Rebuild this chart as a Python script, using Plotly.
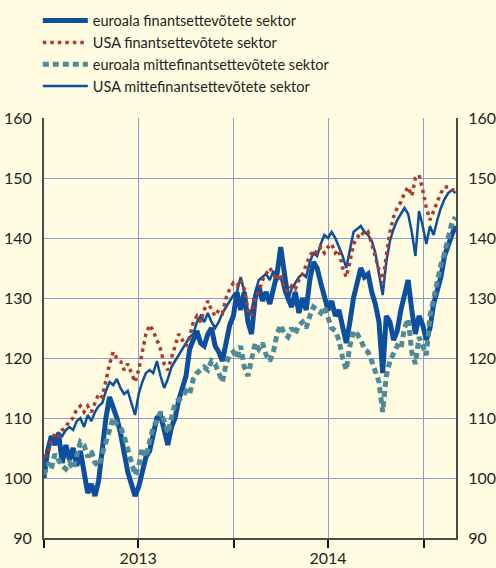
import pandas as pd
import plotly.graph_objects as go

# weekly observations, index 2013-01-01 = ~100
start_date = "2013-01-01"
n_weeks = 114

euro_fin = [100.0, 104.5, 107, 105.5, 107.5, 102.5, 105.5, 103, 105, 102,
            104.5, 100.5, 97.5, 99, 97, 99.5, 105, 110, 113.5, 112,
            110, 107.5, 104, 101, 99, 97, 98.5, 101, 103.5, 104.5,
            107, 110, 110.5, 108, 105.5, 108.5, 110, 113, 115, 117,
            121.5, 123, 124.5, 122.5, 122, 124, 125, 122, 121, 119.5,
            123, 125.5, 127, 131, 128, 131, 126, 124, 130, 132,
            129.5, 131, 129, 132, 134, 138.5, 134, 130, 128.5, 131,
            127.5, 130, 128, 133, 136, 135, 132.5, 130, 128, 129.5,
            127, 128, 125, 122.5, 126, 130, 132.5, 135, 133.5, 134,
            131, 129, 126, 117.5, 127, 126, 123, 124.5, 128, 131,
            133, 128, 124, 127, 125.5, 123, 125, 129, 131, 133.5,
            137, 139, 140.5, 142]

usa_fin = [103.5, 104, 106, 107.5, 107, 108, 108.5, 109.5, 110, 111.5,
           112, 111, 112, 111, 112.5, 114, 113.5, 116.5, 119, 121,
           120, 119.5, 118, 119, 117.5, 116, 118, 121, 124, 125.5,
           124.5, 123, 121.5, 119, 118, 120, 122, 124, 123, 122,
           123.5, 126, 127, 126, 128, 129.5, 128, 127, 128, 127.5,
           130, 131.5, 132.5, 132, 133, 131.5, 128, 127, 130, 131,
           133, 134, 135, 134, 133, 134, 131.5, 131, 132, 131.5,
           133, 134, 135.5, 137, 138, 137.5, 138.5, 137.5, 138.5, 139,
           137.5, 138, 135, 133.5, 136, 139, 140, 141, 140.5, 141,
           139, 137, 135, 132.5, 137, 141, 143.5, 145, 146, 147.5,
           148.5, 147, 150, 150.5, 148, 145, 143, 144.5, 146, 147.5,
           148.5, 148.5, 148, 148]

euro_nonfin = [100.5, 102.5, 101.5, 104, 103, 102, 101.5, 102.5, 101.5, 104,
               106, 105.5, 103.5, 104.5, 102.5, 102, 104, 106, 107.5, 110,
               109, 108.5, 107, 105, 103, 100.5, 102, 105, 103.5, 106.5,
               108.5, 109.5, 111, 109.5, 107.5, 110, 112.5, 113, 113.5, 114.5,
               114, 116.5, 117.5, 118, 118.5, 118, 119.5, 119, 117.5, 116,
               119, 120.5, 121, 120, 122, 118.5, 117, 120, 122.5, 121.5,
               122.5, 120.5, 119.5, 121, 124, 125.5, 124, 123.5, 125, 124,
               125.5, 126, 125, 127, 128.5, 128, 127.5, 128.5, 126.5, 125,
               124.5, 123, 120, 118, 122, 124.5, 124, 123, 121.5, 121,
               119.5, 118, 116, 111, 117, 119.5, 121, 122, 121.5, 125,
               126.5, 121, 119, 123.5, 122, 120.5, 127, 130, 133.5, 135.5,
               137.5, 140, 142.5, 143.5]

usa_nonfin = [102, 105, 106.5, 106, 107.5, 107, 108, 108.5, 108, 109.5,
              110, 108.5, 110.5, 109.5, 111, 112, 112.5, 114.5, 116, 115.5,
              116.5, 115, 114, 114.5, 112.5, 110.5, 114, 116, 117.5, 118,
              117.5, 119.5, 117, 115, 116.5, 118.5, 119.5, 120.5, 121.5, 122.5,
              123.5, 124, 126, 127, 126, 127.5, 126, 125, 126, 127.5,
              128.5, 129.5, 130.5, 131, 133.5, 131, 127, 128, 131, 133,
              133.5, 134, 133, 134.5, 133, 133.5, 131, 129.5, 131.5, 132.5,
              133.5, 134, 133.5, 136, 137.5, 137, 139, 140.5, 140, 141,
              140, 138.5, 137, 135, 138, 141, 141.5, 142, 141, 140.5,
              139.5, 137.5, 134, 130.5, 136, 139.5, 141.5, 143, 144, 145,
              144, 141, 137, 144.5, 142, 139, 142, 140.5, 143, 145,
              146.5, 147.5, 148, 147.5]

names = ["euroala finantsettevõtete sektor",
         "USA finantsettevõtete sektor",
         "euroala mittefinantsettevõtete sektor",
         "USA mittefinantsettevõtete sektor"]

tick_dates = ["2013-01-01", "2013-07-01", "2014-01-01", "2014-07-01", "2015-01-01"]
tick_text = ["", "2013", "", "2014", ""]
y_ticks = [90, 100, 110, 120, 130, 140, 150, 160]

dates = pd.date_range(start_date, periods=n_weeks, freq="7D")

BLUE = "#0B4F9E"
RED = "#AE3A2E"
TEAL = "#4E8A98"
BG = "#FFFCE1"
GRID = "#8D9CD2"
TXT = "#231F20"

fig = go.Figure()
fig.add_trace(go.Scatter(x=dates, y=euro_fin, name=names[0], mode="lines",
                         line=dict(color=BLUE, width=5), legendrank=1))
fig.add_trace(go.Scatter(x=dates, y=euro_nonfin, name=names[2], mode="lines",
                         line=dict(color=TEAL, width=5, dash="6px,4px"), legendrank=3))
fig.add_trace(go.Scatter(x=dates, y=usa_nonfin, name=names[3], mode="lines",
                         line=dict(color=BLUE, width=2.5), legendrank=4))
fig.add_trace(go.Scatter(x=dates, y=usa_fin, name=names[1], mode="lines",
                         line=dict(color=RED, width=3.5, dash="3.5px,4px"), legendrank=2))
# right-hand axis copy
fig.add_trace(go.Scatter(x=dates, y=euro_fin, yaxis="y2", mode="lines",
                         line=dict(width=0), showlegend=False, hoverinfo="skip",
                         opacity=0))

fig.update_layout(
    width=496, height=568,
    margin=dict(l=44, r=40, t=118, b=30, autoexpand=False),
    paper_bgcolor=BG, plot_bgcolor=BG,
    font=dict(family="Lato, 'Liberation Sans', sans-serif", size=16, color=TXT),
    showlegend=True,
    legend=dict(x=-0.015, xanchor="left", y=1.27, yanchor="top",
                bgcolor="rgba(0,0,0,0)", font=dict(size=14.5, color=TXT),
                tracegroupgap=0, itemwidth=45, traceorder="normal"),
    xaxis=dict(type="date", range=["2013-01-01", "2015-03-04"],
               tickvals=tick_dates, ticktext=tick_text,
               showgrid=True, gridcolor=GRID, gridwidth=1,
               showline=True, linecolor="#4A4A4A", linewidth=2,
               ticks="outside", ticklen=8, tickwidth=2, tickcolor="#111111",
               ticklabelstandoff=-3,
               tickfont=dict(size=16), zeroline=False),
    yaxis=dict(range=[90, 160], tickvals=y_ticks,
               showgrid=True, gridcolor=GRID, gridwidth=1,
               showline=True, linecolor="#4A4A4A", linewidth=2,
               ticks="", ticklabelstandoff=7, tickfont=dict(size=16),
               zeroline=False),
    yaxis2=dict(range=[90, 160], tickvals=y_ticks, overlaying="y", side="right",
                showgrid=False, showline=True, linecolor="#4A4A4A", linewidth=2,
                ticks="", ticklabelstandoff=7, tickfont=dict(size=16),
                zeroline=False),
)

fig.write_html(
    "out.html",
    config={"displayModeBar": False},
    post_script=("document.body.style.margin='0';"
                 "document.body.style.overflow='hidden';"
                 "document.body.style.background='" + BG + "';"),
)
